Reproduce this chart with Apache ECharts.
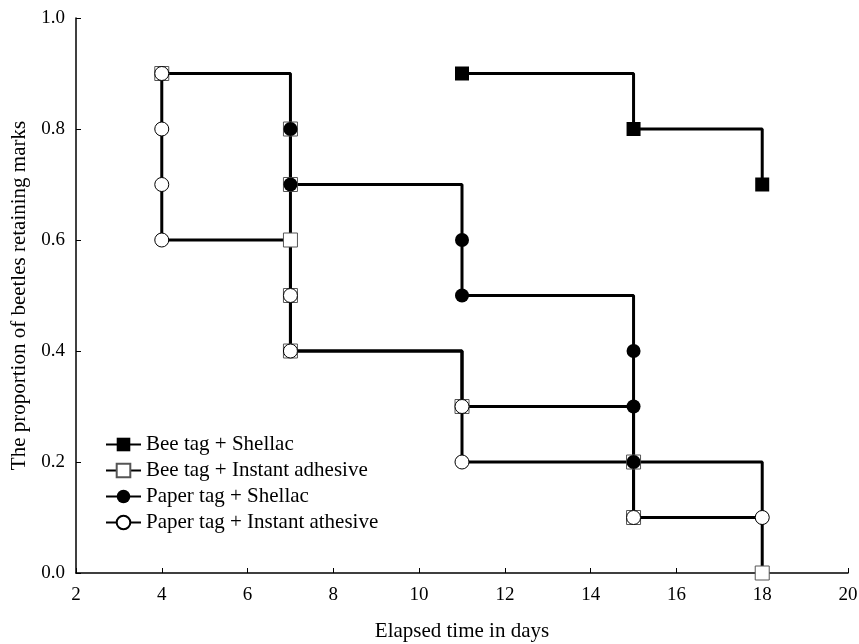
<!DOCTYPE html>
<html>
<head>
<meta charset="utf-8">
<script src="https://cdn.jsdelivr.net/npm/echarts@6/dist/echarts.min.js"></script>
<style>html,body{margin:0;padding:0;background:#fff}#c{width:859px;height:644px}</style>
</head>
<body>
<div id="c"></div>
<script>
const seriesNames = ['Bee tag + Shellac', 'Bee tag + Instant adhesive', 'Paper tag + Shellac', 'Paper tag + Instant athesive'];
const beeShellac = [[11, 0.9], [15, 0.8], [18, 0.7]];
const beeInstant = [[4, 0.9], [7, 0.8], [7, 0.7], [7, 0.6], [7, 0.5], [7, 0.4], [11, 0.3], [15, 0.2], [15, 0.1], [18, 0.0]];
const paperShellac = [[7, 0.8], [7, 0.7], [11, 0.6], [11, 0.5], [15, 0.4], [15, 0.3], [15, 0.2], [18, 0.1]];
const paperInstant = [[4, 0.9], [4, 0.8], [4, 0.7], [4, 0.6], [7, 0.5], [7, 0.4], [11, 0.3], [11, 0.2], [15, 0.1], [18, 0.1]];
const xTicks = [2, 4, 6, 8, 10, 12, 14, 16, 18, 20];
const yTicks = [0.0, 0.2, 0.4, 0.6, 0.8, 1.0];

const font = 'Liberation Serif';
const chart = echarts.init(document.getElementById('c'));
function mk(name, data, symbol, size, fill, border, bw) {
  return {
    name, type: 'line', data, step: 'end',
    symbol, symbolSize: size, showAllSymbol: true,
    lineStyle: { color: '#000', width: 3 },
    itemStyle: { color: fill, borderColor: border, borderWidth: bw },
    emphasis: { disabled: true }, animation: false, clip: false
  };
}
chart.setOption({
  animation: false,
  grid: { left: 76, right: 11, top: 18, bottom: 71, containLabel: false, outerBoundsMode: 'none' },
  xAxis: {
    type: 'value', min: xTicks[0], max: xTicks[xTicks.length - 1], interval: 2,
    name: 'Elapsed time in days', nameLocation: 'middle', nameGap: 48,
    nameTextStyle: { fontFamily: font, fontSize: 21, color: '#000' },
    axisLine: { lineStyle: { color: '#000', width: 1.5 } },
    axisTick: { inside: true, length: 5, lineStyle: { color: '#000' } },
    axisLabel: { fontFamily: font, fontSize: 19, color: '#000', margin: 13 },
    splitLine: { show: false }
  },
  yAxis: {
    type: 'value', min: yTicks[0], max: yTicks[yTicks.length - 1], interval: 0.2,
    name: 'The proportion of beetles retaining marks', nameLocation: 'middle', nameGap: 46,
    nameTextStyle: { fontFamily: font, fontSize: 21, color: '#000' },
    axisLine: { show: true, lineStyle: { color: '#000', width: 1.5 } },
    axisTick: { show: true, inside: true, length: 5, lineStyle: { color: '#000' } },
    axisLabel: { fontFamily: font, fontSize: 19, color: '#000', margin: 11, formatter: v => v.toFixed(1) },
    splitLine: { show: false }
  },
  legend: {
    orient: 'vertical', left: 100, top: 429, itemWidth: 35, itemHeight: 17, itemGap: 5,
    textStyle: { fontFamily: font, fontSize: 21, color: '#000' },
    data: seriesNames
  },
  series: [
    mk(seriesNames[0], beeShellac, 'rect', 14, '#000', '#000', 0),
    mk(seriesNames[1], beeInstant, 'rect', 14, '#fff', '#555', 1),
    mk(seriesNames[2], paperShellac, 'circle', 14, '#000', '#000', 0),
    mk(seriesNames[3], paperInstant, 'circle', 14, '#fff', '#000', 1)
  ]
});
</script>
</body>
</html>
